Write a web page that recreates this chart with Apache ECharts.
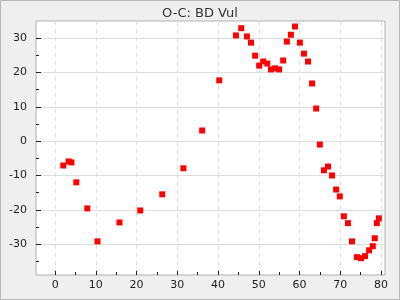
<!DOCTYPE html>
<html><head><meta charset="utf-8">
<script src="https://cdn.jsdelivr.net/npm/echarts@6/dist/echarts.min.js"></script>
<style>html,body{margin:0;padding:0;background:#efefef}#c{width:400px;height:300px}</style>
</head><body><div id="c"></div>
<script>
const xValues = [2.0,3.3,4.0,5.2,7.9,10.4,15.8,20.9,26.3,31.5,36.1,40.3,44.4,45.7,47.1,48.1,49.1,50.1,51.1,52.1,53.0,54.0,55.0,56.0,56.9,57.9,58.9,60.1,61.1,62.1,63.1,64.1,65.0,66.0,67.0,68.0,69.0,69.9,70.9,71.9,72.9,74.1,75.1,76.1,77.1,78.0,78.5,79.0,79.5];
const yValues = [-7.1,-5.9,-6.2,-12.0,-19.6,-29.2,-23.7,-20.2,-15.5,-7.9,3.1,17.7,30.8,32.9,30.5,28.7,24.9,22.0,23.2,22.6,20.9,21.2,20.9,23.5,29.0,31.0,33.4,28.7,25.5,23.2,16.8,9.5,-1.0,-8.5,-7.4,-10.0,-14.1,-16.1,-21.9,-23.9,-29.2,-33.8,-34.1,-33.5,-31.8,-30.6,-28.3,-23.9,-22.5];
const xTickLabels = [0,10,20,30,40,50,60,70,80];
const xMinorTicks = [5,15,25,35,45,55,65,75];
const yTickLabels = [-30,-20,-10,0,10,20,30];
const yMinorTicks = [-35,-25,-15,-5,5,15,25];
const title = 'O-C: BD Vul';

const points = xValues.map((x,i)=>[x,yValues[i]]);
const chart = echarts.init(document.getElementById('c'), null, {renderer:'canvas'});
const font = 'DejaVu Sans';
const xr = {min:-4.7, max:81};
const yr = {min:-39, max:35};
chart.setOption({
  animation:false,
  backgroundColor:'#efefef',
  title:{text:title,left:'center',top:2,textStyle:{fontFamily:font,fontSize:13,fontWeight:'normal',color:'#333'}},
  graphic:[{type:'rect',shape:{x:0.5,y:0.5,width:399,height:299},style:{fill:null,stroke:'#b8b8b8',lineWidth:1},silent:true}],
  grid:{left:36,right:15,top:21,bottom:25,show:true,backgroundColor:'#fff',borderColor:'#b0b0b0',borderWidth:1},
  xAxis:[
    {type:'value',min:xr.min,max:xr.max,position:'bottom',
     axisLine:{show:false,onZero:false},
     axisTick:{show:true,inside:true,length:4,lineStyle:{color:'#222'},customValues:xTickLabels},
     axisLabel:{customValues:xTickLabels,fontFamily:font,fontSize:11,color:'#222',margin:5},
     splitLine:{show:true,lineStyle:{color:'#ddd',type:[4,4]}}},
    {type:'value',min:xr.min,max:xr.max,position:'bottom',offset:0,
     axisLine:{show:false,onZero:false},axisLabel:{show:false},splitLine:{show:false},
     axisTick:{show:true,inside:true,length:3,lineStyle:{color:'#222'},customValues:xMinorTicks}}
  ],
  yAxis:[
    {type:'value',min:yr.min,max:yr.max,position:'left',
     axisLine:{show:false,onZero:false},
     axisTick:{show:true,inside:true,length:5,lineStyle:{color:'#222'},customValues:yTickLabels},
     axisLabel:{customValues:yTickLabels,fontFamily:font,fontSize:11,color:'#222',margin:9},
     splitLine:{show:true,lineStyle:{color:'#ddd',type:'solid'}}},
    {type:'value',min:yr.min,max:yr.max,position:'left',offset:0,
     axisLine:{show:false,onZero:false},axisLabel:{show:false},splitLine:{show:false},
     axisTick:{show:true,inside:true,length:3,lineStyle:{color:'#222'},customValues:yMinorTicks}}
  ],
  series:[{type:'scatter',data:points,symbol:'rect',symbolSize:6,itemStyle:{color:'#ff0000',opacity:1},xAxisIndex:0,yAxisIndex:0}]
});
</script></body></html>
